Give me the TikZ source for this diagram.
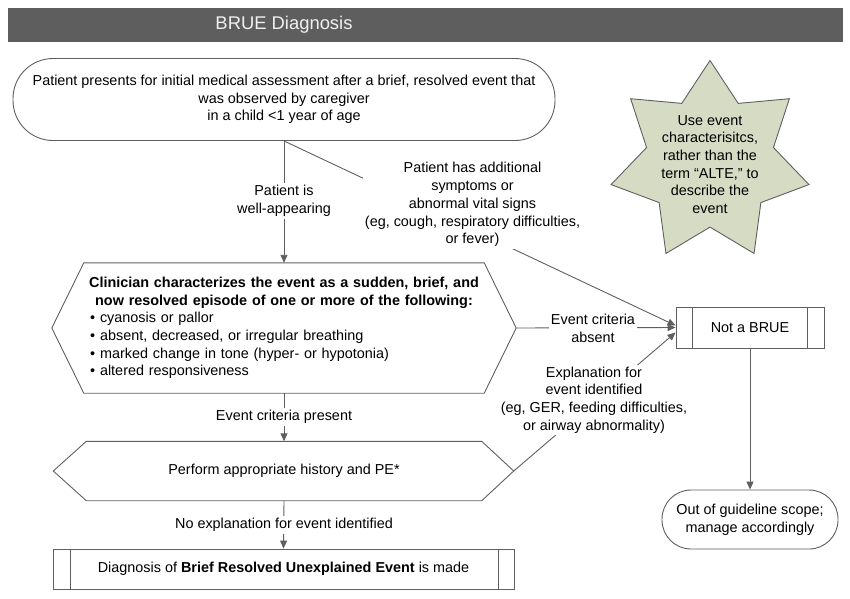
\documentclass[tikz,border=0pt]{standalone}
\usepackage{fontspec}
\setmainfont{Liberation Sans}
\usepackage{tikz}
\usetikzlibrary{positioning}
\usetikzlibrary{shapes.geometric}
\usetikzlibrary{arrows.meta}
\pgfdeclarelayer{background}
\pgfdeclarelayer{foreground}
\pgfsetlayers{background,main,foreground}
\definecolor{linegray}{RGB}{95,95,95}
\definecolor{bargray}{RGB}{94,94,94}
\definecolor{sage}{RGB}{214,220,196}

\begin{document}
\begin{tikzpicture}[x=1pt,y=-1pt,
					font=\fontsize{14.4}{17.7}\selectfont,
					>={Triangle[length=8pt,width=7pt]},
					roundbox/.style={rectangle, draw=linegray, line width=0.9pt, fill=white, align=center, inner sep=0pt},
					procbox/.style={rectangle, draw=linegray, line width=0.9pt, fill=white, inner sep=0pt},
					hexbox/.style={rectangle, inner sep=0pt},
					hexline/.style={draw=linegray, line width=0.9pt},
					lbl/.style={fill=white, align=center, inner sep=2pt},
					link/.style={draw=linegray, line width=0.9pt},
					]
					\useasboundingbox (0,0) rectangle (850,598);
					%Header
					\fill[bargray] (8,8) rectangle (843,42);
					\node[text=white!94!black, font=\fontsize{18.4}{20}\selectfont] (title) at (284,25) {BRUE Diagnosis};
					
					%Nodes
					\node[roundbox, rounded corners=40pt, minimum width=542, minimum height=82] (start) at (284,99.5) {Patient presents for initial medical assessment after a brief, resolved event that\\was observed by caregiver\\in a child <1 year of age};
					\node[star, star points=7, star point ratio=1.56, minimum size=203, draw=linegray, fill=sage, line width=0.9pt, inner sep=0pt] (star) at (710,162) {};
					\node[align=center] (startext) at (710,164.5) {Use event\\characterisitcs,\\rather than the\\term ``ALTE,'' to\\describe the\\event};
					\node[hexbox, minimum width=400, minimum height=130, text width=388, align=left] (clin) at (284,328) {\makebox[\linewidth]{\bfseries Clinician characterizes the event as a sudden, brief, and}\\\makebox[\linewidth]{\bfseries now resolved episode of one or more of the following:}\\\textbullet\hspace{5pt}cyanosis or pallor\\\textbullet\hspace{5pt}absent, decreased, or irregular breathing\\\textbullet\hspace{5pt}marked change in tone (hyper- or hypotonia)\\\textbullet\hspace{5pt}altered responsiveness};
					\draw[hexline] (clin.north west) -- (clin.north east) -- ([xshift=32]clin.east) coordinate (clinR) -- (clin.south east) -- (clin.south west) -- ([xshift=-32]clin.west) -- cycle;
					\node[hexbox, minimum width=395, minimum height=59] (hist) at (284,471) {Perform appropriate history and PE*};
					\draw[hexline] (hist.north west) -- (hist.north east) -- ([xshift=32]hist.east) coordinate (histR) -- (hist.south east) -- (hist.south west) -- ([xshift=-33]hist.west) -- cycle;
					\node[procbox, minimum width=461, minimum height=40] (diag) at (283.5,569) {Diagnosis of \textbf{Brief Resolved Unexplained Event} is made};
					\draw[link] ([xshift=17.5]diag.north west) -- ([xshift=17.5]diag.south west);
					\draw[link] ([xshift=-16]diag.north east) -- ([xshift=-16]diag.south east);
					\node[procbox, minimum width=148, minimum height=41] (notb) at (750,327.5) {Not a BRUE};
					\draw[link] ([xshift=17]notb.north west) -- ([xshift=17]notb.south west);
					\draw[link] ([xshift=-17]notb.north east) -- ([xshift=-17]notb.south east);
					\node[roundbox, rounded corners=29pt, minimum width=176, minimum height=59] (oos) at (750,519.5) {Out of guideline scope;\\manage accordingly};
					
					%Labels
					\node[lbl] (well) at (284,201) {Patient is\\well-appearing};
					\node[lbl] (sym) at (472.5,204.6) {Patient has additional\\symptoms or\\abnormal vital signs\\(eg, cough, respiratory difficulties,\\or fever)};
					\node[lbl] (present) at (284,417) {Event criteria present};
					\node[lbl] (noexp) at (284,525) {No explanation for event identified};
					\node[lbl] (absent) at (593,328) {Event criteria\\absent};
					\node[lbl] (expl) at (594,400) {Explanation for\\event identified\\(eg, GER, feeding difficulties,\\or airway abnormality)};
					
					\begin{pgfonlayer}{background}
					%Lines
					\draw[link,->] (start.south) -- (clin.north);
					\draw[link,->] (start.south) -- ([yshift=2]notb.west);
					\draw[link,->] (clinR) -- (notb.west);
					\draw[link,->] (histR) -- ([yshift=-5]notb.west);
					\draw[link,->] (clin.south) -- (hist.north);
					\draw[link,->] (hist.south) -- (diag.north);
					\draw[link,->] (notb.south) -- (oos.north);
					\end{pgfonlayer}
				\end{tikzpicture}
\end{document}
